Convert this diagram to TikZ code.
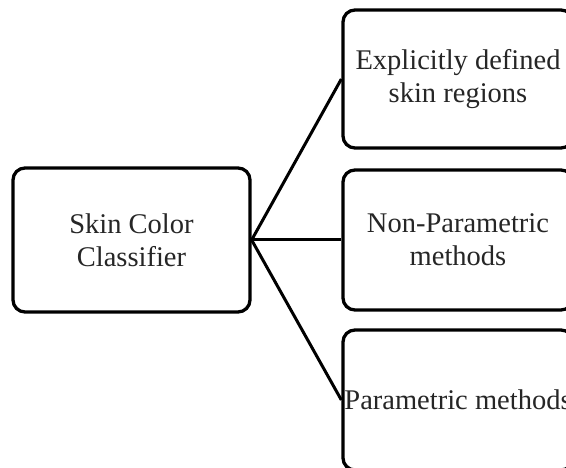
\documentclass[tikz,border=0pt]{standalone}
\usepackage{fontspec}
\setmainfont{Liberation Serif}
\begin{document}
\begin{tikzpicture}[x=1pt,y=1pt,
  boxstyle/.style={draw=black, line width=3.3pt, rounded corners=12pt, fill=white,
    align=center, text=black!85, inner sep=0pt,
    font=\fontsize{28.5}{33}\selectfont},
  linkstyle/.style={draw=black, line width=3pt}]
\useasboundingbox (0,0) rectangle (566,468);
\clip (0,0) rectangle (566,468);
\fill[white] (0,0) rectangle (566,468);
\node[boxstyle, minimum width=237pt, minimum height=144pt] (clf) at (131.5,228) {Skin Color\\Classifier};
\node[boxstyle, minimum width=230pt, minimum height=138pt] (expl) at (458,389) {Explicitly defined\\skin regions};
\node[boxstyle, minimum width=230pt, minimum height=140pt] (nonp) at (458,228) {Non-Parametric\\methods};
\node[boxstyle, minimum width=230pt, minimum height=140pt] (para) at (458,68) {Parametric methods};
\draw[linkstyle] (clf.east) -- (expl.west);
\draw[linkstyle] (clf.east) -- (nonp.west);
\draw[linkstyle] (clf.east) -- (para.west);
\end{tikzpicture}
\end{document}
